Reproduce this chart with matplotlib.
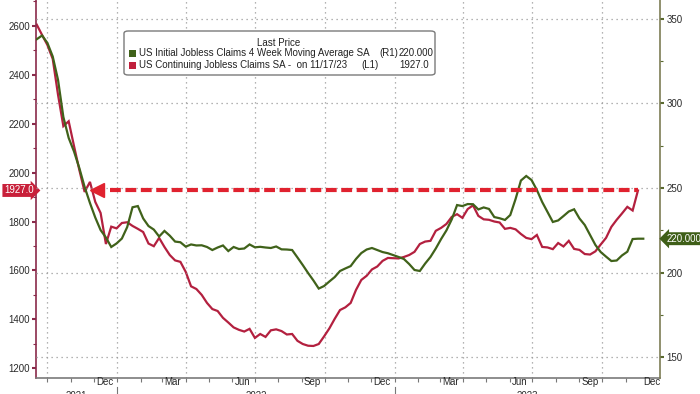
import matplotlib
matplotlib.use('Agg')
import matplotlib.pyplot as plt
import matplotlib.dates as mdates
import matplotlib.transforms as mtrans
from matplotlib.ticker import MultipleLocator, NullFormatter
from matplotlib.patches import FancyBboxPatch, Rectangle
import pandas as pd

plt.rcParams['font.family'] = ['Liberation Sans', 'DejaVu Sans']

# weekly data, both series start on the same Friday
start = '2021-09-17'

# US Continuing Jobless Claims SA (thousands, left axis)
continuing = [
    2605, 2563, 2522, 2465, 2318, 2190, 2210, 2109, 2011, 1921,
    1962, 1880, 1835, 1708, 1779, 1772, 1794, 1797, 1782, 1770,
    1757, 1710, 1699, 1733, 1696, 1663, 1641, 1635, 1594, 1535,
    1524, 1500, 1467, 1442, 1434, 1406, 1387, 1367, 1357, 1350,
    1361, 1324, 1340, 1328, 1355, 1359, 1352, 1338, 1340, 1312,
    1299, 1292, 1291, 1299, 1330, 1363, 1402, 1438, 1449, 1467,
    1520, 1561, 1578, 1604, 1616, 1639, 1651, 1650, 1649, 1655,
    1663, 1676, 1708, 1718, 1721, 1762, 1774, 1790, 1819, 1830,
    1815, 1851, 1866, 1823, 1809, 1807, 1800, 1796, 1770, 1774,
    1768, 1749, 1733, 1728, 1745, 1696, 1694, 1687, 1712, 1698,
    1721, 1688, 1684, 1667, 1665, 1678, 1706, 1733, 1778, 1807,
    1833, 1860, 1845, 1927.0,
]

# US Initial Jobless Claims 4 Week Moving Average SA (thousands, right axis)
initial_4wk = [
    338.0, 340.2, 335.8, 327.8, 313.9, 292.0, 279.6, 271.6, 261.8, 250.6,
    241.1, 232.5, 225.1, 220.7, 215.1, 217.2, 220.1, 226.9, 238.6, 239.3,
    232.0, 227.5, 225.4, 221.3, 224.6, 221.8, 218.3, 217.9, 215.3, 216.6,
    216.0, 216.1, 215.1, 213.3, 214.8, 216.0, 212.7, 215.1, 213.9, 214.2,
    216.6, 214.9, 215.2, 214.8, 214.5, 215.4, 213.7, 213.6, 213.3, 208.9,
    204.4, 199.7, 195.3, 190.5, 192.0, 194.7, 197.3, 200.9, 202.4, 203.8,
    208.0, 211.5, 213.6, 214.5, 213.3, 212.1, 211.4, 210.3, 209.2, 208.0,
    205.0, 201.5, 200.9, 205.3, 209.2, 214.2, 219.8, 224.9, 231.4, 239.9,
    239.3, 240.5, 240.4, 237.3, 238.5, 237.6, 232.8, 232.1, 231.1, 234.0,
    243.5, 254.4, 257.1, 254.7, 248.8, 241.7, 235.8, 229.9, 230.8, 233.4,
    236.1, 237.4, 232.0, 228.1, 222.2, 216.3, 212.1, 209.4, 206.8, 207.1,
    210.1, 212.3, 219.8, 220.0, 220.000,
]

month_labels = ['Dec', 'Mar', 'Jun', 'Sep', 'Dec', 'Mar', 'Jun', 'Sep', 'Dec']
month_label_dates = ['2021-12-15', '2022-03-15', '2022-06-15', '2022-09-15',
                     '2022-12-15', '2023-03-15', '2023-06-15', '2023-09-15',
                     '2023-12-05']
year_labels = ['2021', '2022', '2023']

cont_dates = pd.date_range(start, periods=len(continuing), freq='7D')
init_dates = pd.date_range(start, periods=len(initial_4wk), freq='7D')

RED = '#b3203f'
GREEN = '#40621a'
ARROW_RED = '#e0222f'
FS = 7

fig = plt.figure(figsize=(7, 3.94), dpi=100)
ax = fig.add_axes([36 / 700, 16 / 394, 624 / 700, 378 / 394])
ax2 = ax.twinx()

x0, x1 = pd.Timestamp('2021-09-16'), pd.Timestamp('2023-12-16')
ax.set_xlim(x0, x1)
ax.set_ylim(1160, 2706)
ax2.set_ylim(137.6, 361.2)

ax.plot(cont_dates, continuing, color=RED, lw=1.6, solid_joinstyle='miter')
ax2.plot(init_dates, initial_4wk, color=GREEN, lw=1.6, solid_joinstyle='miter')

# dashed arrow back from the latest continuing claims level
last_level = continuing[-1]
arrow_tip = pd.Timestamp('2021-12-05')
dash_start = pd.Timestamp('2021-12-22')
ax2.plot([dash_start, cont_dates[-1]], [last_level, last_level], color=ARROW_RED,
         lw=3.0, ls=(0, (2.6, 1.1)), transform=ax.transData, zorder=5)
ax2.plot([arrow_tip], [last_level], marker='<', ms=10, color=ARROW_RED,
         mec=ARROW_RED, transform=ax.transData, zorder=5)

# grid
ax.xaxis.set_major_locator(mdates.MonthLocator(bymonth=[1, 4, 7, 10]))
ax.xaxis.set_minor_locator(mdates.MonthLocator())
ax.xaxis.set_major_formatter(NullFormatter())
ax.xaxis.grid(True, which='major', color='#9a9a9a', ls=(0, (1, 3)), lw=0.9)
ax2.yaxis.grid(True, which='major', color='#9a9a9a', ls=(0, (1, 3)), lw=0.9)
ax.tick_params(axis='x', which='both', direction='out', length=3, width=0.8,
               color='#777777')

ax.yaxis.set_major_locator(MultipleLocator(200))
ax.yaxis.set_minor_locator(MultipleLocator(100))
ax.tick_params(axis='y', which='major', direction='out', length=3, width=1.5,
               color='#8a2a4a', labelsize=FS, labelcolor='#2a2a2a', pad=1.5)
ax.tick_params(axis='y', which='minor', direction='out', length=2, width=0.8,
               color='#8a2a4a')

ax2.yaxis.set_major_locator(MultipleLocator(50))
ax2.yaxis.set_minor_locator(MultipleLocator(25))
ax2.tick_params(axis='y', which='major', direction='out', length=3, width=1.5,
                color='#5a6a30', labelsize=FS, labelcolor='#2a2a2a', pad=1.5)
ax2.tick_params(axis='y', which='minor', direction='out', length=2, width=0.8,
                color='#5a6a30')

for a in (ax, ax2):
    a.spines['top'].set_visible(False)
ax.spines['right'].set_visible(False)
ax2.spines['left'].set_visible(False)
ax2.spines['bottom'].set_visible(False)
ax.spines['left'].set_color('#8a2a4a')
ax.spines['left'].set_linewidth(1.2)
ax2.spines['right'].set_color('#7d7d55')
ax2.spines['right'].set_linewidth(1.2)
ax.spines['bottom'].set_color('#7a7a7a')
ax.spines['bottom'].set_linewidth(1.2)

# month and year labels under the axis
blend = mtrans.blended_transform_factory(ax.transData, ax.transAxes)
for d, lab in zip(month_label_dates, month_labels):
    ax.text(mdates.date2num(pd.Timestamp(d)), -0.011, lab, transform=blend,
            ha='center', va='center', fontsize=FS, color='#2a2a2a')

year_edges = [x0, pd.Timestamp('2022-01-01'), pd.Timestamp('2023-01-01'), x1]
for i, lab in enumerate(year_labels):
    mid = year_edges[i] + (year_edges[i + 1] - year_edges[i]) / 2
    ax.text(mdates.date2num(mid), -0.034, lab, transform=blend,
            ha='center', va='top', fontsize=FS, color='#2a2a2a')
for edge in year_edges[1:3]:
    ax.plot([mdates.date2num(edge)] * 2, [-0.024, -0.06], transform=blend,
            color='#777777', lw=0.8, clip_on=False)

# last value tags
yblend_l = mtrans.blended_transform_factory(ax.transAxes, ax.transData)
ax.text(-0.004, continuing[-1], f'{continuing[-1]:.1f}', transform=yblend_l,
        ha='right', va='center', fontsize=FS, color='white',
        bbox=dict(boxstyle='rarrow,pad=0.15', fc='#c8203a', ec='none'))
yblend_r = mtrans.blended_transform_factory(ax2.transAxes, ax2.transData)
ax2.text(1.01, initial_4wk[-1], f'{initial_4wk[-1]:.3f}', transform=yblend_r,
         ha='left', va='center', fontsize=FS, color='white',
         bbox=dict(boxstyle='larrow,pad=0.15', fc='#3f5f18', ec='none'))


# legend box, drawn by hand in figure pixels
def px(x, y):
    return x / 700, 1 - y / 394


bx, by = px(124, 75)
box = FancyBboxPatch((bx, by), 311 / 700, 44 / 394, transform=fig.transFigure,
                     boxstyle='round,pad=0,rounding_size=0.006', fc='white',
                     ec='#7a7a7a', lw=1.0, zorder=10)
fig.patches.append(box)
fig.text(*px(279, 43), 'Last Price', ha='center', va='center', fontsize=FS,
         color='#222222', zorder=11)
rows = [
    (53.5, GREEN, 'US Initial Jobless Claims 4 Week Moving Average SA', '(R1)', 379,
     f'{initial_4wk[-1]:.3f}'),
    (65.5, '#c0203c', 'US Continuing Jobless Claims SA -  on 11/17/23', '(L1)', 361,
     f'{continuing[-1]:.1f}'),
]
for y, col, name, side, side_x, val in rows:
    sx, sy = px(129, y + 3.5)
    fig.patches.append(Rectangle((sx, sy), 7 / 700, 7 / 394, transform=fig.transFigure,
                                 fc=col, ec='none', zorder=11))
    fig.text(*px(139, y), name, ha='left', va='center', fontsize=FS,
             color='#222222', zorder=11)
    fig.text(*px(side_x, y), side, ha='left', va='center', fontsize=FS,
             color='#222222', zorder=11)
    fig.text(*px(399, y), val, ha='left', va='center', fontsize=FS,
             color='#222222', zorder=11)

fig.savefig('out.png', dpi=100)
